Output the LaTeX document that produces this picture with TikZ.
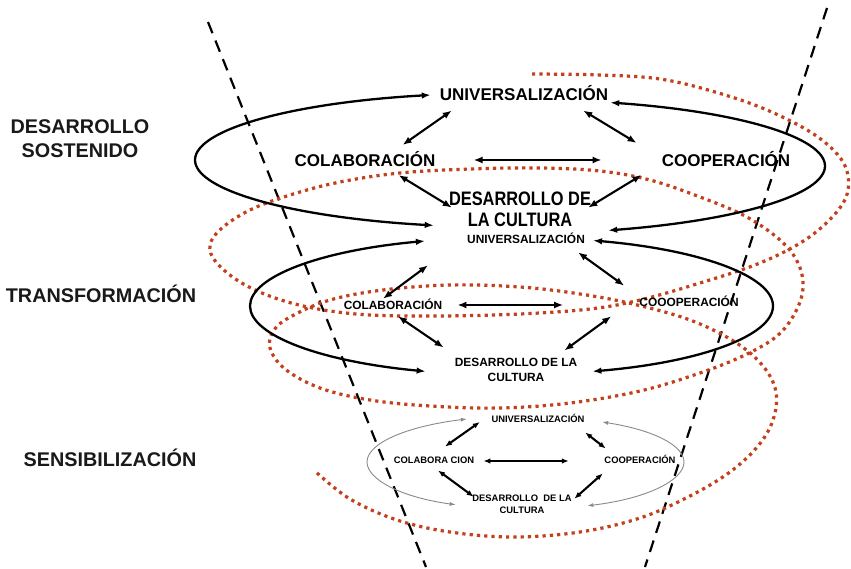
\documentclass[tikz,border=0pt]{standalone}
\usepackage{fontspec}
\setmainfont{Liberation Sans}
\newfontfamily\narrowfont{Liberation Sans}[FakeStretch=0.84]
\usetikzlibrary{calc,arrows.meta}
\definecolor{SpiralRed}{HTML}{C2401C}
\definecolor{RingGray}{HTML}{8A8A8A}
\tikzset{
    lvl/.style = {font=\bfseries\fontsize{19.8}{24}\selectfont, align=center, inner sep=0pt, text=black!90},
    big/.style = {font=\bfseries\fontsize{17}{20}\selectfont, inner sep=0pt, text height=11.7pt, text depth=0pt},
    bigdes/.style = {font=\narrowfont\bfseries\fontsize{19.5}{20.6}\selectfont, align=center, inner sep=0pt},
    mid/.style = {font=\bfseries\fontsize{11.9}{15}\selectfont, inner sep=0pt, text height=8.2pt, text depth=0pt},
    middes/.style = {font=\bfseries\fontsize{11.9}{15}\selectfont, align=center, inner sep=0pt},
    small/.style = {font=\bfseries\fontsize{9.4}{12}\selectfont, inner sep=0pt, text height=6.5pt, text depth=0pt},
    smalldes/.style = {font=\bfseries\fontsize{9.4}{12}\selectfont, align=center, inner sep=0pt},
    ring/.style = {draw, line width=2.3pt, <->, >={Latex[length=9pt,width=6.5pt]}},
    thinring/.style = {draw=RingGray, line width=0.9pt, <->, >={Latex[length=6pt,width=4pt]}},
    link/.style = {draw, line width=2.1pt, <->, >={Latex[length=9pt,width=7pt]}},
    smalllink/.style = {link, >={Latex[length=7pt,width=5.5pt]}},
    conedash/.style = {draw, line width=2.2pt, dash pattern=on 12pt off 8pt},
    spiral/.style = {draw=SpiralRed, line width=3.2pt, dash pattern=on 3.2pt off 4.1pt}
}
\begin{document}
\begin{tikzpicture}[x=1pt,y=-1pt]
    \useasboundingbox (0,0) rectangle (851,569);
    \fill[white] (0,0) rectangle (851,569);
    \draw[conedash] (208,22) -- (426,567);
    \draw[conedash] (827,8) -- (645,567);
    \draw[spiral] plot[smooth,tension=0.6] coordinates {(532,74) (600,75) (660,79) (715,92) (767,110) (815,135) (843,162) (848,190) (835,214) (805,240) (760,263) (700,283) (640,300) (590,309) (520,314) (440,316) (370,315) (318,309) (275,298) (240,282) (216,262) (210,245) (222,228) (250,210) (290,195) (340,182) (400,173) (470,169) (540,168) (600,171) (650,180) (700,197) (745,216) (780,240) (798,263) (803,288) (795,313) (777,336) (745,355) (700,373) (640,391) (570,403) (500,408) (430,406) (370,400) (320,388) (285,369) (270,348) (274,330) (292,316) (330,300) (383,290) (450,285) (520,287) (580,294) (633,304) (690,320) (735,342) (763,366) (776,392) (773,420) (758,446) (730,472) (690,496) (640,518) (580,532) (513,537) (450,532) (397,520) (350,499) (316,472)};

    \node[lvl] (sost) at (80,138.5) {DESARROLLO\\SOSTENIDO};
    \node[lvl, text height=13.6pt, text depth=0pt] (trans) at (101,296) {TRANSFORMACIÓN};
    \node[lvl, text height=13.6pt, text depth=0pt] (sens) at (110,460) {SENSIBILIZACIÓN};

    \node[big] (uA) at (524,94.5) {UNIVERSALIZACIÓN};
    \node[big] (cA) at (365,161) {COLABORACIÓN};
    \node[big] (pA) at (726,161) {COOPERACIÓN};
    \node[bigdes] (dA) at (520,209) {DESARROLLO DE\\LA CULTURA};

    \node[mid] (uB) at (526,239) {UNIVERSALIZACIÓN};
    \node[mid] (cB) at (393,305) {COLABORACIÓN};
    \node[mid] (pB) at (689,302) {COOOPERACIÓN};
    \node[middes] (dB) at (516,370.4) {DESARROLLO DE LA\\CULTURA};

    \node[small] (uC) at (538,419) {UNIVERSALIZACIÓN};
    \node[small] (cC) at (434,460) {COLABORA CION};
    \node[small] (pC) at (640,460) {COOPERACIÓN};
    \node[smalldes] (dC) at (522,504.75) {DESARROLLO\ \ DE LA\\CULTURA};

    \draw[ring] ([shift={(-9,0.5)}]uA.west) .. controls (292,102.7) and (195,129.5) .. (195,160) .. controls (195,190.5) and (292.6,217.5) .. ([shift={(-15,-1)}]dA.south west);
    \draw[ring] ([shift={(2,2)}]uA.south east) .. controls (738.4,111.6) and (825,137.2) .. (825,166) .. controls (825,194.8) and (738.4,220.4) .. ([shift={(17,4)}]dA.south east);
    \draw[ring] ([shift={(-42,2)}]uB.west) .. controls (320.1,250.6) and (250,276.7) .. (250,306) .. controls (250,335.3) and (320.1,361.4) .. ([shift={(-29,1)}]dB.west);
    \draw[ring] ([shift={(8,1.5)}]uB.east) .. controls (700.3,249.7) and (773,276.2) .. (773,306) .. controls (773,335.8) and (700.3,362.3) .. ([shift={(15,1)}]dB.east);
    \draw[thinring] ([shift={(-24.5,0)}]uC.west) .. controls (406.7,426.3) and (367,443.2) .. (367,462) .. controls (367,479.5) and (401.1,497.2) .. ([shift={(-16.5,0)}]dC.west);
    \draw[thinring] ([shift={(17.5,3)}]uC.east) .. controls (652.6,429.8) and (684,445.2) .. (684,462) .. controls (684,480.4) and (646.3,498.8) .. ([shift={(15.5,1)}]dC.east);

    \draw[link] ([shift={(12,10)}]uA.south west) -- ([shift={(-33,-10)}]cA.north east);
    \draw[link] ([shift={(-25,10)}]uA.south east) -- ([shift={(-25,-12)}]pA.north west);
    \draw[link] ([shift={(38,-1)}]cA.east) -- ([shift={(-60,-1)}]pA.west);
    \draw[link] ([shift={(-37,8)}]cA.south east) -- ([shift={(3,16)}]dA.north west);
    \draw[link] ([shift={(-20,8)}]pA.south west) -- ([shift={(-3,16)}]dA.north east);

    \draw[link] ([shift={(-39,22)}]uB.south west) -- ([shift={(-10,-2)}]cB.north);
    \draw[link] ([shift={(-7,9)}]uB.south east) -- ([shift={(-15,-12)}]pB.north west);
    \draw[link] ([shift={(15,0)}]cB.east) -- ([shift={(-76,3)}]pB.west);
    \draw[link] ([shift={(5,7)}]cB.south) -- ([shift={(-11,-11)}]dB.north west);
    \draw[link] ([shift={(-28,10)}]pB.south west) -- ([shift={(-13,-8)}]dB.north east);

    \draw[smalllink] ([shift={(-11.5,3)}]uC.west) -- ([shift={(11,-10)}]cC.north);
    \draw[smalllink] ([shift={(0.5,10)}]uC.south east) -- ([shift={(1.5,-8)}]pC.north west);
    \draw[smalllink] ([shift={(9,1)}]cC.east) -- ([shift={(-35.5,1)}]pC.west);
    \draw[smalllink] ([shift={(4,7)}]cC.south) -- ([shift={(1.5,1.5)}]dC.north west);
    \draw[smalllink] ([shift={(-1.5,10)}]pC.south west) -- ([shift={(2.5,3.5)}]dC.north east);
\end{tikzpicture}
\end{document}
